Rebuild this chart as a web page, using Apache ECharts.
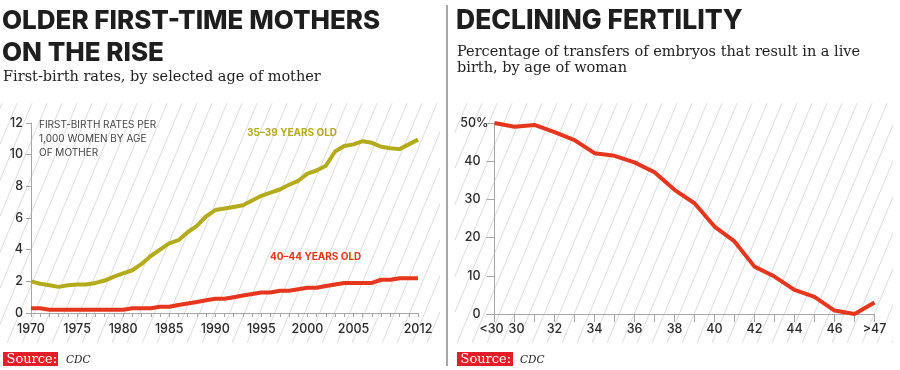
<!DOCTYPE html>
<html><head><meta charset="utf-8">
<script src="https://cdn.jsdelivr.net/npm/echarts@6/dist/echarts.min.js"></script>
<style>html,body{margin:0;padding:0;background:#fff}#c{width:900px;height:370px}</style>
</head><body><div id="c"></div>
<script>
// ---- Data ----
const years = [];
for (let y = 1970; y <= 2012; y++) years.push(String(y));
const yearLabels = ['1970','1975','1980','1985','1990','1995','2000','2005','2012'];
const rate35_39 = [2.0,1.85,1.75,1.65,1.75,1.8,1.8,1.9,2.05,2.3,2.5,2.7,3.1,3.6,4.0,4.4,4.6,5.1,5.5,6.1,6.5,6.6,6.7,6.8,7.1,7.4,7.6,7.8,8.1,8.35,8.8,9.0,9.3,10.2,10.55,10.65,10.85,10.75,10.5,10.4,10.35,10.65,10.95];
const rate40_44 = [0.3,0.3,0.2,0.2,0.2,0.2,0.2,0.2,0.2,0.2,0.2,0.3,0.3,0.3,0.4,0.4,0.5,0.6,0.7,0.8,0.9,0.9,1.0,1.1,1.2,1.3,1.3,1.4,1.4,1.5,1.6,1.6,1.7,1.8,1.9,1.9,1.9,1.9,2.1,2.1,2.2,2.2,2.2];
const leftYTicks = [0,2,4,6,8,10,12];

const ages = ['<30','30','31','32','33','34','35','36','37','38','39','40','41','42','43','44','45','46','47','>47'];
const ageLabels = ['<30','30','32','34','36','38','40','42','44','46','>47'];
const liveBirthPct = [50,49.0,49.5,47.6,45.5,42.1,41.4,39.7,37.1,32.5,29.0,22.9,19.0,12.4,9.8,6.3,4.5,0.9,0.0,3.0];
const rightYTicks = [0,10,20,30,40,50];

// ---- Styles ----
const OLIVE = '#b3ab1c', RED = '#e6361d', AXIS = '#a6a6a6', LABEL = '#2b2b2b';
const SANS = 'Inter', SERIF = 'DejaVu Serif';

// hatch pattern tile
const tile = document.createElement('canvas');
const TW = 15, TH = 36;
tile.width = TW; tile.height = TH;
const tc = tile.getContext('2d');
tc.strokeStyle = '#dcdcdc'; tc.lineWidth = 1;
for (const o of [-TW, 0, TW]) {
  tc.beginPath(); tc.moveTo(o - TW, 2 * TH); tc.lineTo(o + 2 * TW, -TH); tc.stroke();
}
const hatch = { image: tile, repeat: 'repeat' };

const chart = echarts.init(document.getElementById('c'), null, { renderer: 'canvas' });

function txt(x, y, text, font, color, extra) {
  return {
    type: 'text', x: x, y: y, z: 10,
    style: Object.assign({ text: text, font: font, fill: color, verticalAlign: 'middle', align: 'left' }, extra || {})
  };
}

const labelBase = { color: LABEL, fontFamily: SANS, fontSize: 12.5, fontWeight: 500 };

const option = {
  animation: false,
  backgroundColor: '#fff',
  grid: [
    { left: 31, top: 123, width: 387, height: 190 },
    { left: 494.5, top: 123, width: 380, height: 191 }
  ],
  xAxis: [
    {
      gridIndex: 0, type: 'category', data: years, boundaryGap: false,
      axisLine: { lineStyle: { color: AXIS, width: 1 } },
      axisTick: { interval: 0, length: 4, lineStyle: { color: AXIS } },
      axisLabel: Object.assign({ interval: (i, v) => yearLabels.includes(v), margin: 10 }, labelBase),
      splitLine: { show: false }
    },
    {
      gridIndex: 1, type: 'category', data: ages, boundaryGap: false,
      axisLine: { lineStyle: { color: AXIS, width: 1 } },
      axisTick: { interval: 0, length: 8, lineStyle: { color: AXIS } },
      axisLabel: Object.assign({
        interval: (i, v) => ageLabels.includes(v), margin: 9,
        formatter: v => (v === '<30' ? '{lt|<30}' : v === '30' ? '{th|30}' : v),
        rich: {
          lt: Object.assign({ padding: [0, 6, 0, 0] }, labelBase),
          th: Object.assign({ padding: [0, 0, 0, 4] }, labelBase)
        }
      }, labelBase),
      splitLine: { show: false }
    }
  ],
  yAxis: [
    {
      gridIndex: 0, type: 'value', min: leftYTicks[0], max: leftYTicks[leftYTicks.length - 1], interval: 2,
      axisLine: { show: true, lineStyle: { color: AXIS } },
      axisTick: { show: true, length: 5, lineStyle: { color: AXIS } },
      axisLabel: Object.assign({ margin: 8 }, labelBase),
      splitLine: { show: false }
    },
    {
      gridIndex: 1, type: 'value', min: rightYTicks[0], max: rightYTicks[rightYTicks.length - 1], interval: 10,
      axisLine: { show: true, lineStyle: { color: AXIS } },
      axisTick: { show: true, length: 8, lineStyle: { color: AXIS } },
      axisLabel: Object.assign({
        margin: 6,
        formatter: v => (v === 50 ? '{n|50%}' : '{a|' + v + '}'),
        rich: {
          n: Object.assign({}, labelBase),
          a: Object.assign({ padding: [0, 8, 0, 0] }, labelBase)
        }
      }, labelBase),
      splitLine: { show: false }
    }
  ],
  series: [
    { type: 'line', name: '35–39 years old', xAxisIndex: 0, yAxisIndex: 0, data: rate35_39,
      showSymbol: false, symbol: 'none', lineStyle: { color: OLIVE, width: 4 }, z: 3 },
    { type: 'line', name: '40–44 years old', xAxisIndex: 0, yAxisIndex: 0, data: rate40_44,
      showSymbol: false, symbol: 'none', lineStyle: { color: RED, width: 4 }, z: 3 },
    { type: 'line', name: 'Live birth %', xAxisIndex: 1, yAxisIndex: 1, data: liveBirthPct,
      showSymbol: false, symbol: 'none', lineStyle: { color: RED, width: 4 }, z: 3 }
  ],
  graphic: [
    // hatched backgrounds
    { type: 'rect', z: -1, silent: true, shape: { x: 0, y: 103, width: 440, height: 240 }, style: { fill: hatch } },
    { type: 'rect', z: -1, silent: true, shape: { x: 455, y: 103, width: 438, height: 240 }, style: { fill: hatch } },
    // divider
    { type: 'line', z: 10, shape: { x1: 447, y1: 5, x2: 447, y2: 366 }, style: { stroke: '#8a8a8a', lineWidth: 1.5 } },
    // left titles
    txt(2, 21, 'OLDER FIRST-TIME MOTHERS', '800 26px ' + SANS, '#1e1e1e'),
    txt(2, 53, 'ON THE RISE', '800 26px ' + SANS, '#1e1e1e'),
    txt(3, 77, 'First-birth rates, by selected age of mother', '14.5px "' + SERIF + '"', '#222'),
    // right titles
    txt(456, 21, 'DECLINING FERTILITY', '800 26.5px ' + SANS, '#1e1e1e'),
    txt(457, 52, 'Percentage of transfers of embryos that result in a live', '14.5px "' + SERIF + '"', '#222'),
    txt(457, 68, 'birth, by age of woman', '14.5px "' + SERIF + '"', '#222'),
    // annotations
    txt(39, 125, 'FIRST-BIRTH RATES PER', '400 10px ' + SANS, '#444'),
    txt(39, 139, '1,000 WOMEN BY AGE', '400 10px ' + SANS, '#444'),
    txt(39, 153, 'OF MOTHER', '400 10px ' + SANS, '#444'),
    txt(247, 133, '35–39 YEARS OLD', '700 10px ' + SANS, OLIVE),
    txt(270, 257, '40–44 YEARS OLD', '700 10px ' + SANS, RED),
    // sources
    { type: 'rect', z: 10, shape: { x: 3, y: 352, width: 55, height: 14 }, style: { fill: '#e41e26' } },
    txt(6.5, 359.5, 'Source:', '13px "' + SERIF + '"', '#fff'),
    txt(66, 360, 'CDC', 'italic 10.5px "' + SERIF + '"', '#222'),
    { type: 'rect', z: 10, shape: { x: 457, y: 352, width: 56, height: 14 }, style: { fill: '#e41e26' } },
    txt(460.5, 359.5, 'Source:', '13px "' + SERIF + '"', '#fff'),
    txt(520, 360, 'CDC', 'italic 10.5px "' + SERIF + '"', '#222')
  ]
};
chart.setOption(option);
</script></body></html>
